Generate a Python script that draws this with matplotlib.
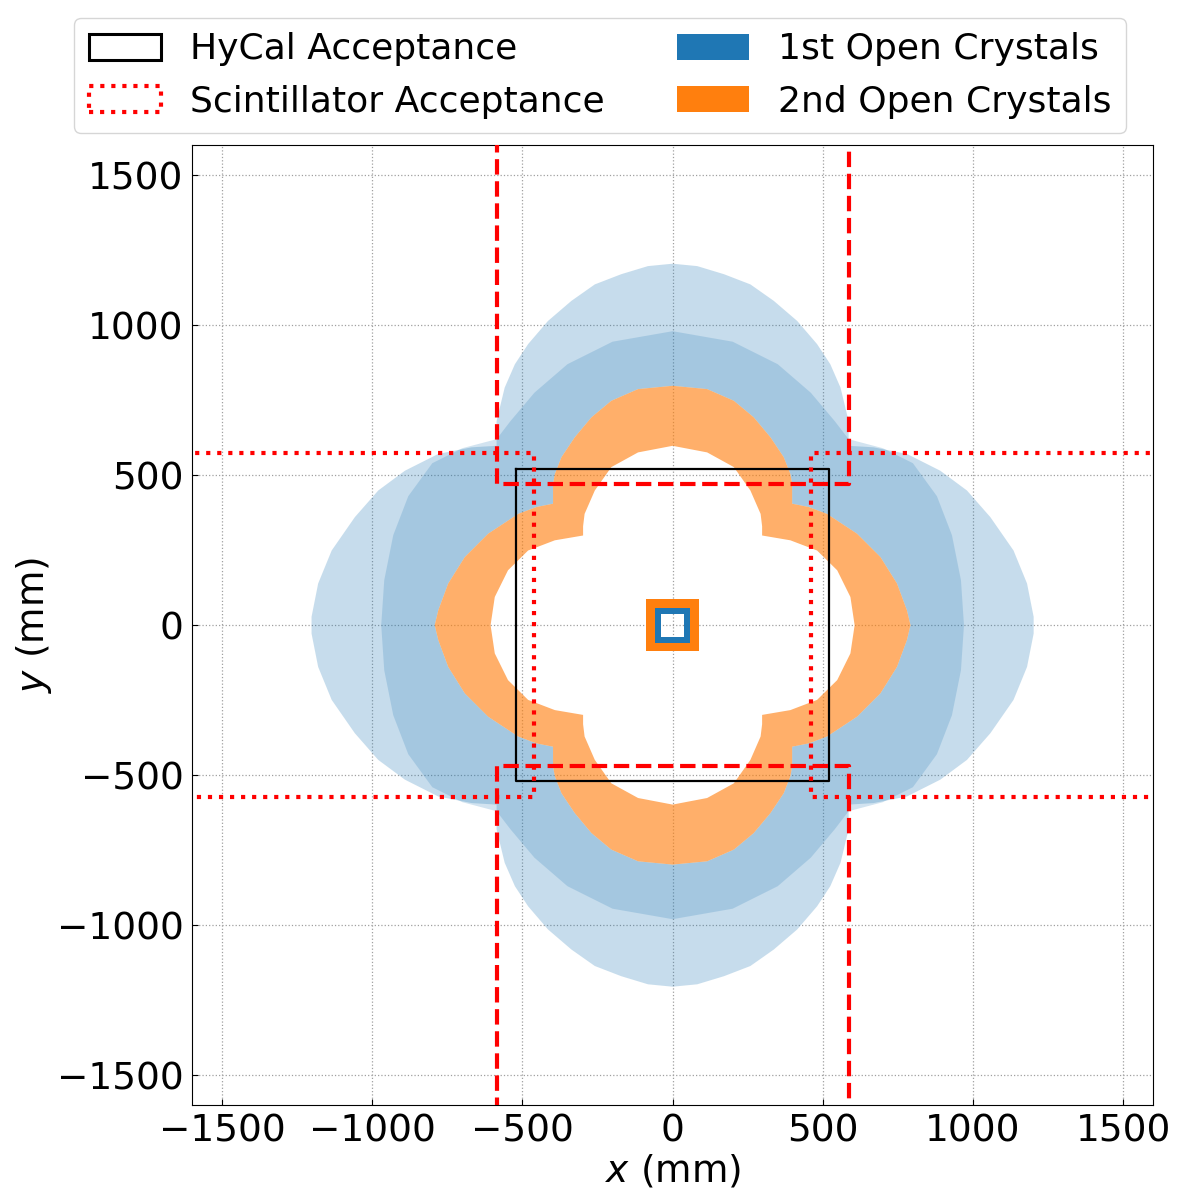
import numpy as np
import matplotlib
matplotlib.use("Agg")
import matplotlib.pyplot as plt
from matplotlib.path import Path
from matplotlib.patches import PathPatch, Patch

# one quadrant (x>=0, y>=0) of each outline in mm;
# the figure is mirror symmetric so the other quadrants are reflections
blue_outer_x = [0, 82, 171, 259, 337, 415, 481, 525, 559, 575, 586, 586, 669, 780, 891, 980, 1058, 1135, 1180, 1202, 1202]
blue_outer_y = [1205, 1197, 1170, 1136, 1081, 1014, 937, 870, 792, 726, 680, 598, 593, 571, 515, 449, 360, 249, 139, 28, 0]

blue_dense_x = [0, 200, 350, 460, 540, 586, 700, 800, 880, 930, 960, 970]
blue_dense_y = [980, 945, 870, 775, 680, 620, 590, 540, 430, 300, 150, 0]

orange_outer_x = [0, 115, 204, 270, 326, 370, 392, 398, 398, 453, 514, 614, 692, 747, 780, 792]
orange_outer_y = [798, 787, 748, 693, 626, 560, 504, 471, 405, 394, 371, 305, 227, 139, 50, 0]

orange_inner_x = [0, 115, 204, 259, 293, 298, 298, 392, 481, 548, 592, 606]
orange_inner_y = [598, 576, 527, 449, 371, 330, 299, 283, 249, 183, 94, 0]

# central open crystals (half widths, mm)
center_hole = 38
first_ring = 58
second_ring = 87

# acceptance outlines (mm)
hycal_half = 520
scint_y = 573
scint_gap = 460
strip_x = 586
strip_gap = 470


def full_outline(qx, qy):
    qx = np.asarray(qx, float)
    qy = np.asarray(qy, float)
    xs = np.concatenate([qx, qx[::-1], -qx, -qx[::-1]])
    ys = np.concatenate([qy, -qy[::-1], -qy, qy[::-1]])
    return np.column_stack([xs, ys])


def square(h):
    return np.array([[-h, h], [h, h], [h, -h], [-h, -h]], float)


def ring(outer, inner):
    verts, codes = [], []
    for pts in (outer, inner[::-1]):
        verts += list(pts) + [pts[0]]
        codes += [Path.MOVETO] + [Path.LINETO] * (len(pts) - 1) + [Path.CLOSEPOLY]
    return Path(verts, codes)


blue_out = full_outline(blue_outer_x, blue_outer_y)
blue_mid = full_outline(blue_dense_x, blue_dense_y)
orange_out = full_outline(orange_outer_x, orange_outer_y)
orange_in = full_outline(orange_inner_x, orange_inner_y)

fig = plt.figure(figsize=(12, 12), dpi=100)
ax = fig.add_axes([0.16, 0.079, 0.801, 0.8])
ax.set_axisbelow(True)
ax.grid(True, linestyle=':', color='#a0a0a0', linewidth=0.9)

blue = '#1f77b4'
orange = '#ff7f0e'

ax.add_patch(PathPatch(ring(blue_out, orange_out), facecolor=blue, alpha=0.25, edgecolor='none', zorder=2))
ax.add_patch(PathPatch(ring(blue_mid, orange_out), facecolor=blue, alpha=0.2, edgecolor='none', zorder=2))
ax.add_patch(PathPatch(ring(orange_out, orange_in), facecolor=orange, alpha=0.62, edgecolor='none', zorder=3))

ax.add_patch(PathPatch(ring(square(second_ring), square(first_ring)), facecolor=orange, edgecolor='none', zorder=4))
ax.add_patch(PathPatch(ring(square(first_ring), square(center_hole)), facecolor=blue, edgecolor='none', zorder=4))

# HyCal acceptance
ax.plot([-hycal_half, hycal_half, hycal_half, -hycal_half, -hycal_half],
        [hycal_half, hycal_half, -hycal_half, -hycal_half, hycal_half],
        color='black', lw=1.6, zorder=5)

# scintillator acceptance (dotted) - horizontal strip
for s in (-1, 1):
    ax.plot([s * 1700, s * scint_gap, s * scint_gap, s * 1700],
            [scint_y, scint_y, -scint_y, -scint_y], color='red', ls=':', lw=3, zorder=6)

# vertical strip (dashed)
for s in (-1, 1):
    ax.plot([-strip_x, -strip_x, strip_x, strip_x],
            [s * 1700, s * strip_gap, s * strip_gap, s * 1700], color='red', ls='--', lw=3, zorder=6)

ax.set_xlim(-1600, 1600)
ax.set_ylim(-1600, 1600)
ticks = [-1500, -1000, -500, 0, 500, 1000, 1500]
ax.set_xticks(ticks)
ax.set_yticks(ticks)
ax.tick_params(direction='in', labelsize=27, length=4, pad=6)
ax.set_xlabel(r'$x$ (mm)', fontsize=27, labelpad=2)
ax.set_ylabel(r'$y$ (mm)', fontsize=27, labelpad=2)

handles = [
    Patch(facecolor='none', edgecolor='black', lw=2.2, label='HyCal Acceptance'),
    Patch(facecolor='none', edgecolor='red', ls=':', lw=3, label='Scintillator Acceptance'),
    Patch(facecolor=blue, label='1st Open Crystals'),
    Patch(facecolor=orange, label='2nd Open Crystals'),
]
fig.legend(handles=handles, loc='upper center', bbox_to_anchor=(0.5, 1.0), ncol=2,
           fontsize=26, frameon=True, columnspacing=2.0)

fig.savefig('out.png', dpi=100)
